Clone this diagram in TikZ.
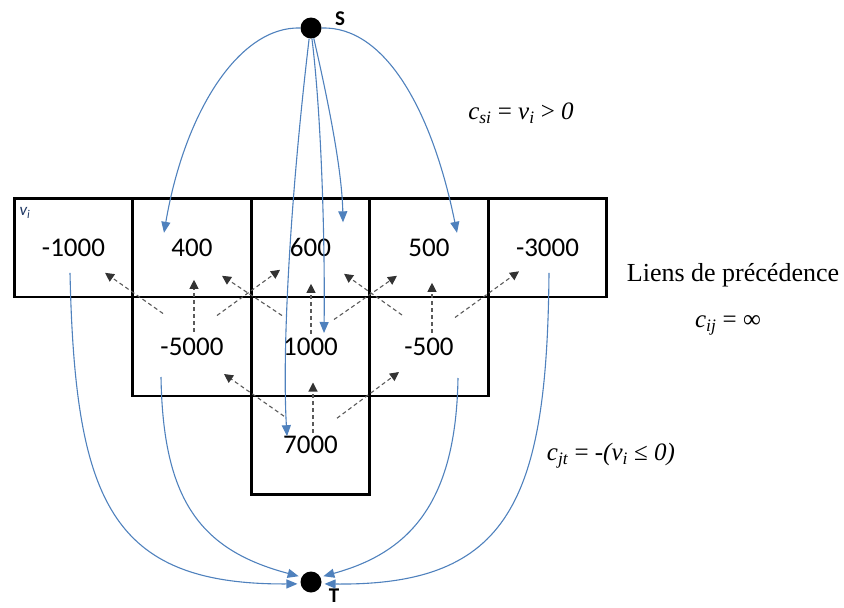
\documentclass[tikz,border=0pt]{standalone}
\usepackage{fontspec}
\setmainfont{Liberation Serif}
\newfontfamily\carlito{Carlito}
\usetikzlibrary{arrows.meta,calc}
\definecolor{linkblue}{RGB}{79,129,189}
\definecolor{dashgray}{RGB}{90,90,90}
\definecolor{vcol}{RGB}{31,56,100}
\begin{document}
\begin{tikzpicture}[x=1pt,y=-1pt,
 cell/.style={draw=black,line width=2.6pt,minimum width=118.5pt,minimum height=98.7pt,inner sep=0pt,font=\carlito\fontsize{27}{29}\selectfont},
 terminal/.style={circle,fill=black,minimum size=21pt,inner sep=0pt},
 flow/.style={linkblue,line width=1.1pt,-{Triangle[length=11pt,width=9pt]}},
 prec/.style={dashgray,line width=1.1pt,dash pattern=on 4pt off 3pt,-{Triangle[length=9pt,width=9pt,color=black!80]}},
 lbl/.style={inner sep=0pt,font=\rmfamily\fontsize{25}{27}\selectfont},
 tname/.style={inner sep=0pt,font=\carlito\bfseries\fontsize{21}{22}\selectfont}]
\useasboundingbox (0,0) rectangle (844,608);
% cells
\node[cell] (t1) at (73.5,247.8) {-1000};
\node[cell] (t2) at (192,247.8) {400};
\node[cell] (t3) at (310.5,247.8) {600};
\node[cell] (t4) at (429,247.8) {500};
\node[cell] (t5) at (547.5,247.8) {-3000};
\node[cell] (m1) at (192,346.5) {-5000};
\node[cell] (m2) at (310.5,346.5) {1000};
\node[cell] (m3) at (429,346.5) {-500};
\node[cell] (b) at (310.5,445.2) {7000};
\node[inner sep=0pt,text=vcol,font=\carlito\itshape\fontsize{17}{18}\selectfont] (vi) at (25,213) {v\textsubscript{i}};
% terminals
\node[terminal] (S) at (311,28) {};
\node[terminal] (T) at (311,582) {};
\node[tname] (Sl) at (340,19) {S};
\node[tname] (Tl) at (334,596) {T};
% labels
\node[lbl] (l1) at (521,113) {\itshape c\textsubscript{si}\upshape{} = \itshape v\textsubscript{i}\upshape{} > \itshape 0};
\node[lbl,font=\rmfamily\fontsize{26}{28}\selectfont] (l2) at (733,275) {Liens de précédence};
\node[lbl] (l3) at (728,325) {\itshape c\textsubscript{ij}\upshape{} = ∞};
\node[lbl] (l4) at (611,456) {\itshape c\textsubscript{jt}\upshape{} = \itshape -(v\textsubscript{i}\upshape{} ≤ \itshape 0)};
% precedence arrows
\draw[prec] ($(m1)+(-29,-33)$) -- ($(t1)+(31.5,25)$);
\draw[prec] ($(m1)+(2,-15)$) -- ($(t2)+(2,32)$);
\draw[prec] ($(m1)+(25,-31)$) -- ($(t3)+(-30.5,22)$);
\draw[prec] ($(m2)+(-28.5,-31)$) -- ($(t2)+(30,28)$);
\draw[prec] ($(m2)+(0.5,-13)$) -- ($(t3)+(0.5,36)$);
\draw[prec] ($(m2)+(23.5,-27)$) -- ($(t4)+(-32,28)$);
\draw[prec] ($(m3)+(-27,-31.5)$) -- ($(t3)+(33.5,26)$);
\draw[prec] ($(m3)+(3,-14)$) -- ($(t4)+(3,35)$);
\draw[prec] ($(m3)+(26,-29)$) -- ($(t5)+(-28.5,23.5)$);
\draw[prec] ($(b)+(-26.5,-29)$) -- ($(m1)+(32,27.5)$);
\draw[prec] ($(b)+(2.5,-12)$) -- ($(m2)+(2.5,36)$);
\draw[prec] ($(b)+(26.5,-27)$) -- ($(m3)+(-30,25.5)$);
% source flows
\coordinate (e2) at ($(t2)+(-28,-15)$);
\coordinate (e4) at ($(t4)+(28,-15)$);
\coordinate (e3) at ($(t3)+(32.5,-25.5)$);
\coordinate (em2) at ($(m2)+(13.5,-13.5)$);
\coordinate (eb) at ($(b)+(-23.5,-9)$);
\draw[flow] (S.west) .. controls (240,26) and (185,110) .. (e2);
\draw[flow] (S.east) .. controls (385,26) and (432,110) .. (e4);
\draw[flow] (S.-75) .. controls (328,100) and (342,170) .. (e3);
\draw[flow] (S.-85) .. controls (322,120) and (325,250) .. (em2);
\draw[flow] (S.-100) .. controls (290,200) and (282,350) .. (eb);
% sink flows
\coordinate (s1) at ($(t1)+(-3.5,25)$);
\coordinate (s5) at ($(t5)+(1.5,25)$);
\coordinate (sm1) at ($(m1)+(-31,30.5)$);
\coordinate (sm3) at ($(m3)+(29,31.5)$);
\draw[flow,shorten >=3pt] (s1) .. controls (75,500) and (110,585) .. (T.190);
\draw[flow,shorten >=3pt] (sm1) .. controls (163,500) and (200,550) .. (T.152);
\draw[flow,shorten >=3pt] (s5) .. controls (547,500) and (510,586) .. (T.-10);
\draw[flow,shorten >=3pt] (sm3) .. controls (456,500) and (412,552) .. (T.28);
\end{tikzpicture}
\end{document}
